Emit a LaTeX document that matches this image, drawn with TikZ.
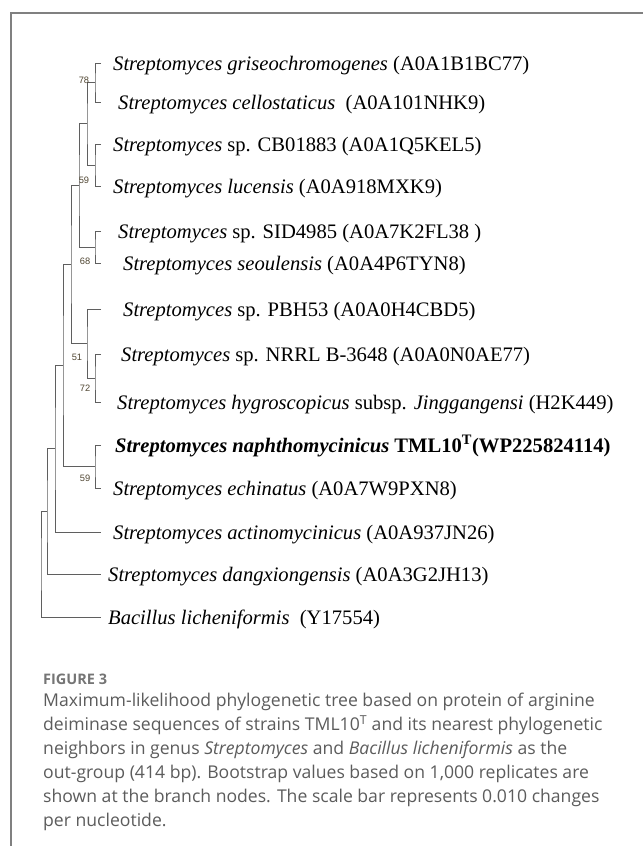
\documentclass[tikz,border=0pt]{standalone}
\usepackage{fontspec}
\setmainfont{Liberation Serif}
\newfontfamily\capfont{Open Sans}
\newfontfamily\bsfont{Liberation Sans}
\definecolor{framegray}{RGB}{128,128,128}
\definecolor{treegray}{RGB}{95,95,95}
\definecolor{capgray}{RGB}{92,92,92}
\definecolor{bsgray}{RGB}{80,70,50}
\begin{document}
\begin{tikzpicture}[x=1pt,y=-1pt,
  frameline/.style={draw=framegray,line width=1.6pt},
  branch/.style={draw=treegray,line width=1pt},
  leaf/.style={anchor=base west,inner sep=0pt,font=\fontsize{20.6}{25}\selectfont},
  boot/.style={inner sep=0pt,text=bsgray,font=\bsfont\fontsize{9.3}{10}\selectfont},
  captext/.style={anchor=north west,inner sep=0pt,align=left,text=capgray,font=\capfont\fontsize{17.6}{24}\selectfont},
  caphead/.style={anchor=base west,inner sep=0pt,text=capgray!85,font=\capfont\bfseries\fontsize{14.5}{16}\selectfont}]
\useasboundingbox (0,0) rectangle (643,846);
\fill[white] (0,0) rectangle (643,846);
% frame
\coordinate (fbl) at (11,846);
\coordinate (ftl) at (11,13);
\coordinate (ftr) at (643,13);
\draw[frameline] (fbl) -- (ftl) -- (ftr);
% leaf tips
\coordinate (t1) at (101,63);
\coordinate (t2) at (101,102);
\coordinate (t3) at (101,144);
\coordinate (t4) at (101,186);
\coordinate (t5) at (101,231);
\coordinate (t6) at (101,263);
\coordinate (t7) at (101,309);
\coordinate (t8) at (101,354);
\coordinate (t9) at (101,402);
\coordinate (t10) at (101,445);
\coordinate (t11) at (101,488);
\coordinate (t12) at (101,532);
\coordinate (t13) at (101,574);
\coordinate (t14) at (101,617);
% leaf labels
\node[leaf] (l1) at (113,70) {\textit{Streptomyces griseochromogenes} (A0A1B1BC77)};
\node[leaf] (l2) at (118,109) {\textit{Streptomyces cellostaticus}~ (A0A101NHK9)};
\node[leaf] (l3) at (113,151) {\textit{Streptomyces} sp. CB01883 (A0A1Q5KEL5)};
\node[leaf] (l4) at (113,193) {\textit{Streptomyces lucensis} (A0A918MXK9)};
\node[leaf] (l5) at (118,238) {\textit{Streptomyces} sp. SID4985 (A0A7K2FL38 )};
\node[leaf] (l6) at (123,270) {\textit{Streptomyces seoulensis} (A0A4P6TYN8)};
\node[leaf] (l7) at (123,316) {\textit{Streptomyces} sp. PBH53 (A0A0H4CBD5)};
\node[leaf] (l8) at (121,361) {\textit{Streptomyces} sp. NRRL B-3648 (A0A0N0AE77)};
\node[leaf] (l9) at (117,409) {\textit{Streptomyces hygroscopicus} subsp. \textit{Jinggangensi} (H2K449)};
\node[leaf] (l10) at (115,452) {\textbf{\textit{Streptomyces naphthomycinicus} TML10\textsuperscript{T}(WP225824114)}};
\node[leaf] (l11) at (113,495) {\textit{Streptomyces echinatus} (A0A7W9PXN8)};
\node[leaf] (l12) at (113,539) {\textit{Streptomyces actinomycinicus} (A0A937JN26)};
\node[leaf] (l13) at (108,581) {\textit{Streptomyces dangxiongensis} (A0A3G2JH13)};
\node[leaf] (l14) at (108,624) {\textit{Bacillus licheniformis}~ (Y17554)};
% internal nodes
\coordinate (nA) at (95,82.5);
\coordinate (nB) at (95,165);
\coordinate (nAB) at (87,123.75);
\coordinate (nC) at (95,247);
\coordinate (nABC) at (79,185.4);
\coordinate (nE) at (95,378);
\coordinate (nD) at (87,343.5);
\coordinate (nG) at (71,264.4);
\coordinate (nF) at (95,466.5);
\coordinate (nH) at (63,365.5);
\coordinate (nI) at (55,448.7);
\coordinate (nJ) at (47,511.4);
\coordinate (nR) at (41,564.2);
% branches
\draw[branch] (t1) -| (nA) |- (t2);
\draw[branch] (t3) -| (nB) |- (t4);
\draw[branch] (nA) -| (nAB) |- (nB);
\draw[branch] (t5) -| (nC) |- (t6);
\draw[branch] (nAB) -| (nABC) |- (nC);
\draw[branch] (t8) -| (nE) |- (t9);
\draw[branch] (t7) -| (nD) |- (nE);
\draw[branch] (nABC) -| (nG) |- (nD);
\draw[branch] (t10) -| (nF) |- (t11);
\draw[branch] (nG) -| (nH) |- (nF);
\draw[branch] (nH) -| (nI) |- (t12);
\draw[branch] (nI) -| (nJ) |- (t13);
\draw[branch] (nJ) -| (nR) |- (t14);
% bootstrap values
\node[boot] (b78) at (84,80) {78};
\node[boot] (b59a) at (84,180) {59};
\node[boot] (b68) at (85,261) {68};
\node[boot] (b51) at (77,357) {51};
\node[boot] (b72) at (85,388) {72};
\node[boot] (b59b) at (85,478) {59};
% caption
\node[caphead] (fig) at (43,684) {FIGURE 3};
\node[captext] (cap) at (43,693) {Maximum-likelihood phylogenetic tree based on protein of arginine\\
deiminase sequences of strains TML10\textsuperscript{T} and its nearest phylogenetic\\
neighbors in genus \textit{Streptomyces} and \textit{Bacillus licheniformis} as the\\
out-group (414 bp). Bootstrap values based on 1,000 replicates are\\
shown at the branch nodes. The scale bar represents 0.010 changes\\
per nucleotide.};
\end{tikzpicture}
\end{document}
